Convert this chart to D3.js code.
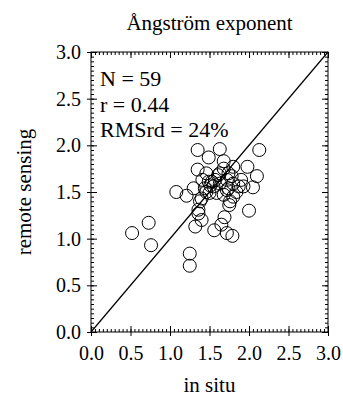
<!DOCTYPE html>
<html>
<head>
<meta charset="utf-8">
<script src="https://cdn.jsdelivr.net/npm/d3@7"></script>
<style>
  body { margin: 0; background: #fff; }
  svg text { font-family: "Liberation Serif", "Times New Roman", serif; fill: #000; }
  .domain { display: none; }
  .tick line { stroke: #000; stroke-width: 1; }
</style>
</head>
<body>
<div id="chart"></div>
<script>
// данные: in situ против remote sensing
const inSitu = [0.52,0.73,0.76,1.25,1.25,1.08,1.21,1.32,1.36,1.40,
  1.56,1.65,1.69,1.72,1.79,2.00,1.35,1.63,1.49,2.13,
  1.68,1.35,1.46,1.80,1.98,2.10,2.05,1.68,1.61,1.74,
  1.57,1.49,1.41,1.30,1.44,1.55,1.63,1.72,1.80,1.90,
  1.93,1.84,1.74,1.59,1.68,1.76,1.75,1.38,1.40,1.36,
  1.51,1.80,1.87,1.46,1.63,1.78,1.53,1.50,1.72];
const remote = [1.06,1.17,0.93,0.84,0.71,1.50,1.46,1.13,1.27,1.20,
  1.09,1.15,1.23,1.06,1.03,1.30,1.95,1.96,1.87,1.95,
  1.83,1.74,1.70,1.77,1.77,1.67,1.55,1.75,1.68,1.70,
  1.63,1.61,1.63,1.54,1.54,1.56,1.59,1.63,1.59,1.63,
  1.56,1.50,1.54,1.49,1.47,1.40,1.36,1.40,1.43,1.31,
  1.57,1.45,1.56,1.50,1.70,1.67,1.61,1.49,1.52];
const majorTicks = [0, 0.5, 1.0, 1.5, 2.0, 2.5, 3.0];
const statLines = ["N = 59", "r = 0.44", "RMSrd = 24%"];

const W = 343, H = 398;
const plotL = 91, plotR = 328, plotT = 52, plotB = 332;

let svg = d3.select('#chart').append('svg').attr('width', W).attr('height', H);

let x = d3.scaleLinear().domain([0, 3]).range([plotL, plotR]);
let y = d3.scaleLinear().domain([0, 3]).range([plotB, plotT]);
let minorTicks = d3.range(0, 3.0001, 0.05);

// рамка
svg.append('rect')
  .attr('x', plotL).attr('y', plotT)
  .attr('width', plotR - plotL).attr('height', plotB - plotT)
  .attr('fill', 'none').attr('stroke', '#000').attr('stroke-width', 1);

// оси: подписи + внешние засечки
let fmt = d3.format('.1f');
svg.append('g').attr('transform', `translate(0,${plotB})`)
  .call(d3.axisBottom(x).tickValues(majorTicks).tickFormat(fmt).tickSize(4).tickPadding(10))
  .selectAll('text').style('font-size', '20px');
svg.append('g').attr('transform', `translate(${plotL},0)`)
  .call(d3.axisLeft(y).tickValues(majorTicks).tickFormat(fmt).tickSize(4).tickPadding(6))
  .selectAll('text').style('font-size', '20px');

// внутренние засечки на всех четырёх сторонах
function inward(axisFn, scale, pos, vals, len) {
  svg.append('g').attr('transform', pos)
    .call(axisFn(scale).tickValues(vals).tickSize(-len).tickFormat(''));
}
[[majorTicks, 6], [minorTicks, 3]].forEach(([vals, len]) => {
  inward(d3.axisBottom, x, `translate(0,${plotB})`, vals, len);
  inward(d3.axisTop, x, `translate(0,${plotT})`, vals, len);
  inward(d3.axisLeft, y, `translate(${plotL},0)`, vals, len);
  inward(d3.axisRight, y, `translate(${plotR},0)`, vals, len);
});

// линия 1:1
svg.append('line')
  .attr('x1', x(0)).attr('y1', y(0)).attr('x2', x(3)).attr('y2', y(3))
  .attr('stroke', '#000').attr('stroke-width', 1.2);

// точки
svg.append('g').selectAll('circle')
  .data(d3.zip(inSitu, remote))
  .enter()
  .append('circle')
  .attr('cx', d => x(d[0]))
  .attr('cy', d => y(d[1]))
  .attr('r', 6.5)
  .attr('fill', 'none')
  .attr('stroke', '#000')
  .attr('stroke-width', 1);

// статистика
svg.append('g').selectAll('text')
  .data(statLines)
  .enter()
  .append('text')
  .attr('x', 100)
  .attr('y', (d, i) => 86 + i * 25.5)
  .style('font-size', '22px')
  .text(d => d);

// заголовок и подписи осей
svg.append('text').attr('x', (plotL + plotR) / 2).attr('y', 30)
  .attr('text-anchor', 'middle').style('font-size', '21px').text('Ångström exponent');
svg.append('text').attr('x', (plotL + plotR) / 2).attr('y', 392)
  .attr('text-anchor', 'middle').style('font-size', '21px').text('in situ');
svg.append('text')
  .attr('transform', `translate(31,${(plotT + plotB) / 2}) rotate(-90)`)
  .attr('text-anchor', 'middle').style('font-size', '21px').text('remote sensing');
</script>
</body>
</html>
